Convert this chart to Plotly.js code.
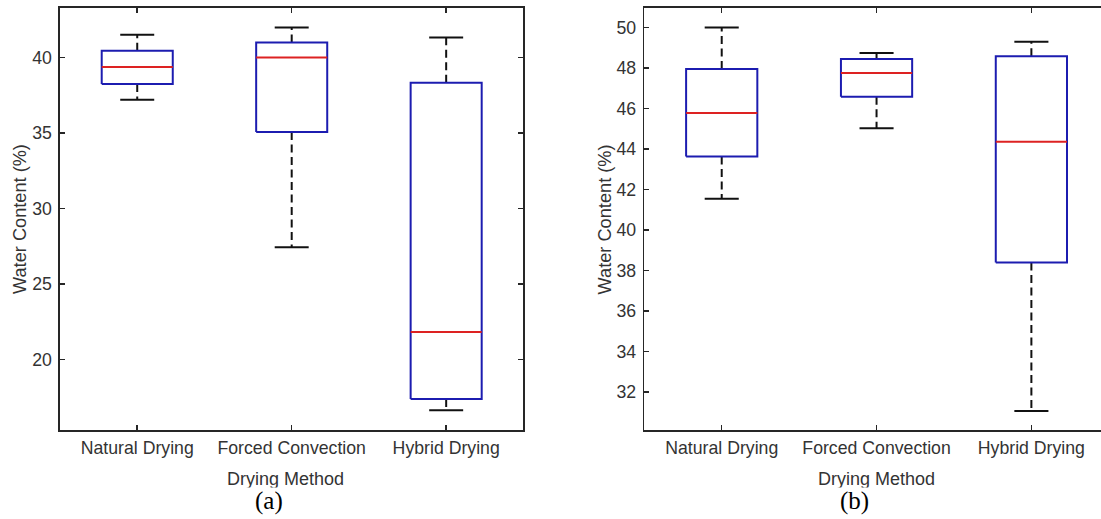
<!DOCTYPE html>
<html>
<head>
<meta charset="utf-8">
<script src="https://cdn.plot.ly/plotly-3.0.1.min.js"></script>
<style>
  html, body { margin: 0; padding: 0; background: #fff; overflow: hidden; }
  #chart { width: 1110px; height: 519px; }
</style>
</head>
<body>
<div id="chart"></div>
<script>
// ---- Data ----
const categories = ['Natural Drying', 'Forced Convection', 'Hybrid Drying'];

// Panel (a)
const aUpper  = [41.51, 41.99, 41.33];
const aQ3     = [40.45, 41.00, 38.33];
const aMedian = [39.37, 40.00, 21.84];
const aQ1     = [38.25, 35.07, 17.40];
const aLower  = [37.21, 27.44, 16.66];
const aTicks  = [20, 25, 30, 35, 40];

// Panel (b)
const bUpper  = [50.00, 48.74, 49.30];
const bQ3     = [47.95, 48.44, 48.58];
const bMedian = [45.78, 47.75, 44.36];
const bQ1     = [43.63, 46.58, 38.40];
const bLower  = [41.55, 45.03, 31.07];
const bTicks  = [32, 34, 36, 38, 40, 42, 44, 46, 48, 50];

const panelLabels = ['(a)', '(b)'];
const xTitle = 'Drying Method';
const yTitle = 'Water Content (%)';

// ---- Styling ----
const W = 1110, H = 519;
const BOX_HALF = 0.23, CAP_HALF = 0.11;
const BLUE = '#1c1cb0', RED = '#dd2222', BLACK = '#111111';
const AXC = '#262626', TXT = '#333333';
const sans = 'Liberation Sans, Arial, Helvetica, sans-serif';
const serif = 'Liberation Serif, Times New Roman, serif';

function panelTraces(up, q3, med, q1, lo, xa, ya) {
  const tr = [];
  const base = {type: 'scatter', mode: 'lines', xaxis: xa, yaxis: ya,
                hoverinfo: 'skip', showlegend: false};
  categories.forEach((c, i) => {
    // whiskers (dashed)
    tr.push(Object.assign({}, base, {x: [i, i], y: [q3[i], up[i]],
      line: {color: BLACK, width: 2, dash: '8px,4.5px'}}));
    tr.push(Object.assign({}, base, {x: [i, i], y: [q1[i], lo[i]],
      line: {color: BLACK, width: 2, dash: '8px,4.5px'}}));
    // caps
    tr.push(Object.assign({}, base, {x: [i - CAP_HALF, i + CAP_HALF], y: [up[i], up[i]],
      line: {color: BLACK, width: 2}}));
    tr.push(Object.assign({}, base, {x: [i - CAP_HALF, i + CAP_HALF], y: [lo[i], lo[i]],
      line: {color: BLACK, width: 2}}));
    // box
    tr.push(Object.assign({}, base, {
      x: [i - BOX_HALF, i + BOX_HALF, i + BOX_HALF, i - BOX_HALF, i - BOX_HALF],
      y: [q1[i], q1[i], q3[i], q3[i], q1[i]],
      line: {color: BLUE, width: 2}}));
    // median
    tr.push(Object.assign({}, base, {x: [i - BOX_HALF, i + BOX_HALF], y: [med[i], med[i]],
      line: {color: RED, width: 2}}));
  });
  return tr;
}

const data = [].concat(
  panelTraces(aUpper, aQ3, aMedian, aQ1, aLower, 'x', 'y'),
  panelTraces(bUpper, bQ3, bMedian, bQ1, bLower, 'x2', 'y2')
);

function xax(domain, anchor) {
  return {
    domain: domain, anchor: anchor, range: [-0.5, 2.5],
    tickmode: 'array', tickvals: categories.map((c, i) => i), ticktext: categories,
    ticks: 'inside', ticklen: 5, tickwidth: 1.5, tickcolor: AXC,
    showline: true, linecolor: AXC, linewidth: 1.6, mirror: 'ticks',
    showgrid: false, zeroline: false, ticklabelstandoff: 1,
    tickfont: {family: sans, size: 17.7, color: TXT}
  };
}
function yax(range, ticks, anchor) {
  return {
    anchor: anchor, range: range,
    tickmode: 'array', tickvals: ticks, ticktext: ticks.map(String),
    ticks: 'inside', ticklen: 5, tickwidth: 1.5, tickcolor: AXC,
    showline: true, linecolor: AXC, linewidth: 1.6, mirror: 'ticks',
    showgrid: false, zeroline: false, ticklabelstandoff: 3,
    tickfont: {family: sans, size: 17.7, color: TXT}
  };
}

const PT = 8, PB = 430; // plot area top/bottom in px
const plotH = PB - PT;
function py(pix) { return (PB - pix) / plotH; }
function px(pix) { return pix / W; }

const annotations = [];
[[285.7, 20, 269], [876.3, 605.4, 854]].forEach((p, k) => {
  annotations.push({xref: 'paper', yref: 'paper', x: px(p[0]), y: py(479),
    xanchor: 'center', yanchor: 'middle', showarrow: false, text: xTitle,
    font: {family: sans, size: 18, color: TXT}});
  annotations.push({xref: 'paper', yref: 'paper', x: px(p[1]), y: py(219),
    xanchor: 'center', yanchor: 'middle', showarrow: false, text: yTitle, textangle: -90,
    font: {family: sans, size: 18.2, color: TXT}});
  // white strip reproducing the cropped descenders of the x title
  annotations.push({xref: 'paper', yref: 'paper', x: px(p[0]), y: py(486.8),
    xanchor: 'center', yanchor: 'top', showarrow: false, text: ' ',
    width: 140, height: 3, borderpad: 0, bgcolor: '#ffffff',
    font: {size: 2}});
  annotations.push({xref: 'paper', yref: 'paper', x: px(p[2]), y: py(501),
    xanchor: 'center', yanchor: 'middle', showarrow: false, text: panelLabels[k],
    font: {family: serif, size: 25, color: '#000'}});
});

const layout = {
  width: W, height: H,
  margin: {l: 0, r: 0, t: PT, b: H - PB, pad: 0},
  paper_bgcolor: '#fff', plot_bgcolor: '#fff',
  showlegend: false,
  xaxis: xax([px(60), px(523.4)], 'y'),
  yaxis: yax([15.35, 43.28], aTicks, 'x'),
  xaxis2: xax([px(644.3), px(1108.8)], 'y2'),
  yaxis2: yax([30.13, 50.96], bTicks, 'x2'),
  annotations: annotations
};

Plotly.newPlot('chart', data, layout, {staticPlot: true, displayModeBar: false});
</script>
</body>
</html>
